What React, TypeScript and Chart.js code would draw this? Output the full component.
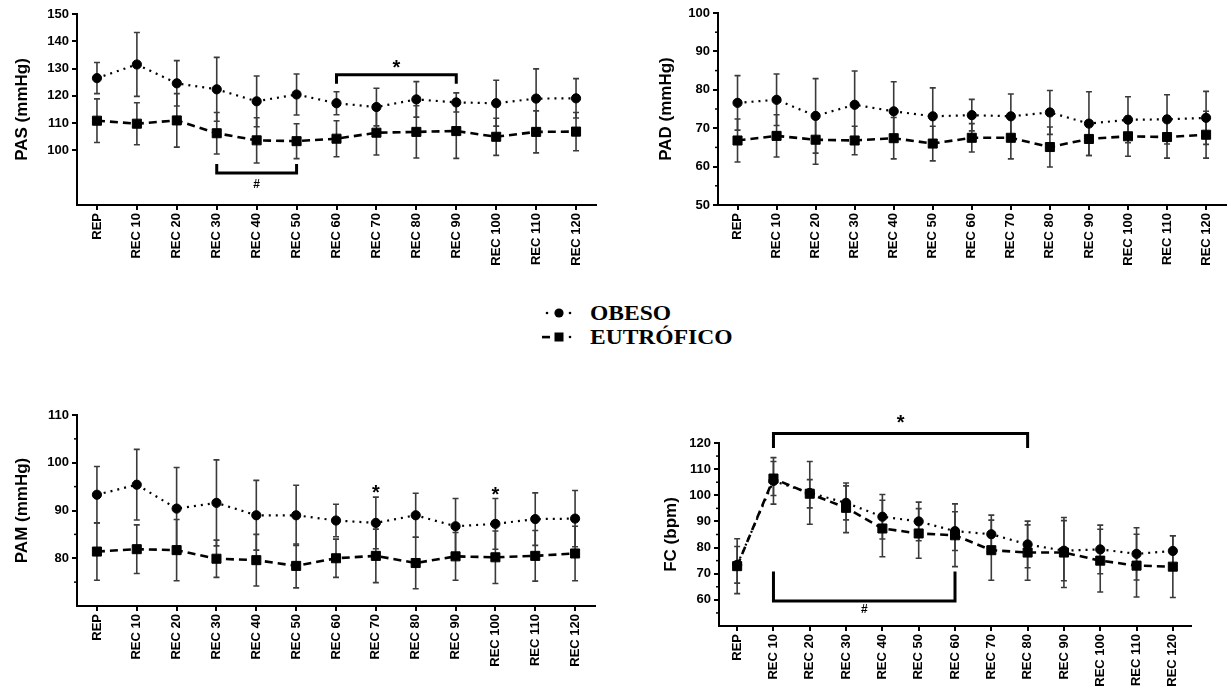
import React, { useEffect, useRef } from "react";
import { Chart, registerables } from "chart.js";

Chart.register(...registerables);

// ---------------- DATA ----------------
const categories = [
  "REP", "REC 10", "REC 20", "REC 30", "REC 40", "REC 50", "REC 60",
  "REC 70", "REC 80", "REC 90", "REC 100", "REC 110", "REC 120",
];
const seriesNames = ["OBESO", "EUTRÓFICO"];

// PAS (mmHg)
const pasObeso = [126.5, 131.5, 124.6, 122.4, 118.0, 120.5, 117.3, 115.9, 118.7, 117.6, 117.3, 119.0, 119.1];
const pasObesoSd = [5.7, 11.7, 8.3, 11.7, 9.3, 7.5, 4.2, 6.9, 6.5, 3.5, 8.4, 10.9, 7.2];
const pasEutro = [110.9, 109.8, 111.0, 106.3, 103.7, 103.4, 104.3, 106.5, 106.8, 107.1, 105.0, 106.8, 106.9];
const pasEutroSd = [8.0, 7.7, 9.8, 7.6, 8.3, 6.4, 6.6, 8.2, 9.6, 10.0, 6.8, 7.7, 7.0];

// PAD (mmHg)
const padObeso = [76.6, 77.4, 73.2, 76.1, 74.4, 73.1, 73.4, 73.1, 74.1, 71.2, 72.2, 72.3, 72.7];
const padObesoSd = [7.1, 6.7, 9.7, 8.8, 7.7, 7.4, 4.1, 5.8, 5.7, 8.3, 6.0, 6.4, 6.9];
const padEutro = [66.8, 68.0, 67.0, 66.8, 67.4, 66.0, 67.5, 67.5, 65.1, 67.2, 67.9, 67.7, 68.3];
const padEutroSd = [5.6, 5.5, 6.4, 3.7, 5.4, 4.5, 3.7, 5.5, 5.2, 4.3, 5.2, 5.5, 6.1];

// PAM (mmHg)
const pamObeso = [93.3, 95.4, 90.4, 91.6, 89.0, 89.0, 87.9, 87.4, 89.0, 86.7, 87.2, 88.2, 88.3];
const pamObesoSd = [5.9, 7.4, 8.6, 9.0, 7.3, 6.3, 3.4, 5.4, 4.6, 5.8, 5.3, 5.5, 5.9];
const pamEutro = [81.4, 81.9, 81.7, 79.9, 79.6, 78.4, 80.0, 80.5, 79.0, 80.4, 80.2, 80.5, 81.0];
const pamEutroSd = [6.0, 5.1, 6.4, 3.9, 5.4, 4.6, 4.0, 5.6, 5.4, 5.0, 5.5, 5.3, 5.7];

// FC (bpm)
const fcObeso = [73.4, 105.5, 100.9, 97.1, 91.8, 90.0, 86.3, 85.1, 81.2, 78.8, 79.3, 77.6, 78.7];
const fcObesoSd = [7.0, 8.9, 12.0, 6.5, 8.5, 7.4, 7.4, 7.3, 8.9, 11.5, 9.3, 10.0, 5.8];
const fcEutro = [72.9, 106.4, 100.6, 95.2, 87.3, 85.4, 84.7, 79.0, 78.1, 78.1, 75.0, 73.1, 72.7];
const fcEutroSd = [10.5, 6.5, 5.4, 9.5, 10.8, 9.5, 12.0, 11.5, 10.6, 13.4, 12.0, 12.0, 11.8];

// significance marks (category index, value)
const pasMarks = [
  { from: 3, to: 5, y: 91.7, end: 95.0, label: "#", labelY: 87.6, size: 12 },
  { from: 6, to: 9, y: 127.7, end: 124.4, label: "*", labelY: 130.0, size: 20 },
];
const pamMarks = [
  { at: 7, label: "*", labelY: 93.6, size: 20 },
  { at: 10, label: "*", labelY: 93.2, size: 20 },
];
const fcMarks = [
  { from: 1, to: 8, y: 123.6, end: 118.1, label: "*", labelY: 127.3, size: 20 },
  { from: 1, to: 6, y: 59.6, end: 70.8, label: "#", labelY: 56.2, size: 12 },
];

// ---------------- PLUGINS ----------------
const errorBars = {
  id: "errorBars",
  beforeDatasetsDraw(chart: any) {
    const { ctx, scales } = chart;
    const x = scales.x, y = scales.y;
    ctx.save();
    ctx.strokeStyle = "#3a3a3a";
    ctx.lineWidth = 1.6;
    chart.data.datasets.forEach((ds: any) => {
      const sd = ds.sd;
      if (!sd) return;
      ds.data.forEach((v: number, i: number) => {
        const px = x.getPixelForValue(i);
        const t = y.getPixelForValue(v + sd[i]);
        const b = y.getPixelForValue(v - sd[i]);
        ctx.beginPath();
        ctx.moveTo(px, t); ctx.lineTo(px, b);
        ctx.moveTo(px - 3, t); ctx.lineTo(px + 3, t);
        ctx.moveTo(px - 3, b); ctx.lineTo(px + 3, b);
        ctx.stroke();
      });
    });
    ctx.restore();
  },
};

function makeMarks(items: any[]) {
  return {
    id: "marks",
    afterDatasetsDraw(chart: any) {
      const { ctx, scales } = chart;
      const x = scales.x, y = scales.y;
      ctx.save();
      ctx.strokeStyle = "#000";
      ctx.fillStyle = "#000";
      ctx.lineWidth = 3;
      ctx.lineJoin = "miter";
      ctx.textAlign = "center";
      ctx.textBaseline = "middle";
      items.forEach((it) => {
        let cx: number;
        if (it.from !== undefined) {
          const x1 = x.getPixelForValue(it.from);
          const x2 = x.getPixelForValue(it.to);
          const yy = y.getPixelForValue(it.y);
          const ye = y.getPixelForValue(it.end);
          ctx.beginPath();
          ctx.moveTo(x1, ye); ctx.lineTo(x1, yy); ctx.lineTo(x2, yy); ctx.lineTo(x2, ye);
          ctx.stroke();
          cx = (x1 + x2) / 2;
        } else {
          cx = x.getPixelForValue(it.at);
        }
        ctx.font = `bold ${it.size}px "Liberation Sans", Arial, sans-serif`;
        ctx.fillText(it.label, cx, y.getPixelForValue(it.labelY));
      });
      ctx.restore();
    },
  };
}

function makeMinor(vals: number[]) {
  return {
    id: "minorTicks",
    afterDraw(chart: any) {
      const { ctx, scales, chartArea } = chart;
      const y = scales.y;
      ctx.save();
      ctx.strokeStyle = "#000";
      ctx.lineWidth = 1.5;
      vals.forEach((v) => {
        const py = y.getPixelForValue(v);
        ctx.beginPath();
        ctx.moveTo(chartArea.left - 3, py);
        ctx.lineTo(chartArea.left, py);
        ctx.stroke();
      });
      ctx.restore();
    },
  };
}

// ---------------- PANELS ----------------
type Panel = {
  left: number; top: number; width: number; height: number;
  yWidth: number; xHeight: number; padTop: number; padRight: number;
  min: number; max: number; labelMin: number; minor: number[];
  title: string; titlePad: number;
  obeso: number[]; obesoSd: number[]; eutro: number[]; eutroSd: number[];
  marks: any[];
};

const panels: Panel[] = [
  {
    left: 0, top: 0, width: 620, height: 290, yWidth: 77, xHeight: 85, padTop: 14, padRight: 24,
    min: 80, max: 150, labelMin: 100, minor: [], title: "PAS (mmHg)", titlePad: 12,
    obeso: pasObeso, obesoSd: pasObesoSd, eutro: pasEutro, eutroSd: pasEutroSd, marks: pasMarks,
  },
  {
    left: 620, top: 0, width: 613, height: 290, yWidth: 98, xHeight: 85, padTop: 13, padRight: 1,
    min: 50, max: 100, labelMin: 50, minor: [55, 65, 75, 85, 95], title: "PAD (mmHg)", titlePad: 36,
    obeso: padObeso, obesoSd: padObesoSd, eutro: padEutro, eutroSd: padEutroSd, marks: [],
  },
  {
    left: 0, top: 400, width: 620, height: 288, yWidth: 77, xHeight: 82, padTop: 15, padRight: 25,
    min: 70, max: 110, labelMin: 80, minor: [75, 85, 95, 105], title: "PAM (mmHg)", titlePad: 12,
    obeso: pamObeso, obesoSd: pamObesoSd, eutro: pamEutro, eutroSd: pamEutroSd, marks: pamMarks,
  },
  {
    left: 620, top: 400, width: 611, height: 288, yWidth: 99, xHeight: 62, padTop: 43, padRight: 40,
    min: 50, max: 120, labelMin: 60, minor: [55, 65, 75, 85, 95, 105, 115], title: "FC (bpm)", titlePad: 41,
    obeso: fcObeso, obesoSd: fcObesoSd, eutro: fcEutro, eutroSd: fcEutroSd, marks: fcMarks,
  },
];

const FONT = '"Liberation Sans", Arial, sans-serif';

function makeConfig(p: Panel): any {
  return {
    type: "line",
    data: {
      labels: categories,
      datasets: [
        {
          label: seriesNames[0], data: p.obeso, sd: p.obesoSd, order: 1,
          borderColor: "#000", borderWidth: 2.2, borderDash: [2, 5], tension: 0, fill: false,
          pointStyle: "circle", pointRadius: 4.6, pointBackgroundColor: "#000", pointBorderColor: "#000",
          pointBorderWidth: 1,
        },
        {
          label: seriesNames[1], data: p.eutro, sd: p.eutroSd, order: 0,
          borderColor: "#000", borderWidth: 2.6, borderDash: [8, 5], tension: 0, fill: false,
          pointStyle: "rect", pointRadius: 6.4, pointBackgroundColor: "#000", pointBorderColor: "#000",
          pointBorderWidth: 1,
        },
      ],
    },
    options: {
      animation: false,
      responsive: false,
      maintainAspectRatio: false,
      layout: { padding: { top: p.padTop, right: p.padRight, left: 0, bottom: 0 } },
      plugins: { legend: { display: false }, tooltip: { enabled: false } },
      scales: {
        x: {
          type: "category",
          offset: true,
          grid: { offset: false, drawOnChartArea: false, drawTicks: true, tickLength: 5, color: "#000", lineWidth: 2 },
          border: { display: true, color: "#000", width: 2 },
          ticks: {
            autoSkip: false, maxRotation: 90, minRotation: 90, color: "#000", padding: 3,
            font: { family: FONT, size: 13, weight: "bold" },
          },
          afterFit: (s: any) => { s.height = p.xHeight; },
        },
        y: {
          min: p.min, max: p.max,
          grid: { drawOnChartArea: false, drawTicks: true, tickLength: 5, color: "#000", lineWidth: 2 },
          border: { display: true, color: "#000", width: 2 },
          ticks: { stepSize: 10, color: "#000", padding: 3, font: { family: FONT, size: 13, weight: "bold" } },
          afterBuildTicks: (s: any) => { s.ticks = s.ticks.filter((t: any) => t.value >= p.labelMin); },
          afterFit: (s: any) => { s.width = p.yWidth; },
          title: {
            display: true, text: p.title, color: "#000",
            font: { family: FONT, size: 17, weight: "bold" },
            padding: { top: p.titlePad, bottom: 0 },
          },
        },
      },
    },
    plugins: [errorBars, makeMarks(p.marks), makeMinor(p.minor)],
  };
}

function PanelChart({ p }: { p: Panel }) {
  const ref = useRef<HTMLCanvasElement>(null);
  useEffect(() => {
    if (!ref.current) return;
    const chart = new Chart(ref.current, makeConfig(p));
    return () => chart.destroy();
  }, [p]);
  return (
    <canvas
      ref={ref}
      width={p.width}
      height={p.height}
      style={{ position: "absolute", left: p.left, top: p.top, width: p.width, height: p.height }}
    />
  );
}

function LegendRow({ idx, top }: { idx: number; top: number }) {
  return (
    <div style={{ position: "absolute", left: 540, top, height: 24, display: "flex", alignItems: "center" }}>
      <svg width={40} height={24} style={{ display: "block" }}>
        {idx === 0 ? (
          <g fill="#000">
            <circle cx={7} cy={12} r={1.3} />
            <circle cx={19} cy={12} r={4.6} />
            <circle cx={30} cy={12} r={1.3} />
          </g>
        ) : (
          <g fill="#000">
            <rect x={2} y={10.8} width={8} height={2.6} />
            <rect x={14.5} y={7.5} width={9} height={9} />
            <circle cx={30} cy={12} r={1.3} />
          </g>
        )}
      </svg>
      <span
        style={{
          marginLeft: 10, fontFamily: '"Liberation Serif", "Times New Roman", serif', fontWeight: "bold",
          fontSize: 21, color: "#000", display: "inline-block", transform: "scaleX(1.12)", transformOrigin: "left center",
          whiteSpace: "nowrap", lineHeight: "24px",
        }}
      >
        {seriesNames[idx]}
      </span>
    </div>
  );
}

export default function App() {
  return (
    <div style={{ position: "fixed", left: 0, top: 0, width: 1231, height: 688, overflow: "hidden", background: "#fff" }}>
      {panels.map((p, i) => (
        <PanelChart key={i} p={p} />
      ))}
      <LegendRow idx={0} top={301} />
      <LegendRow idx={1} top={325} />
    </div>
  );
}
